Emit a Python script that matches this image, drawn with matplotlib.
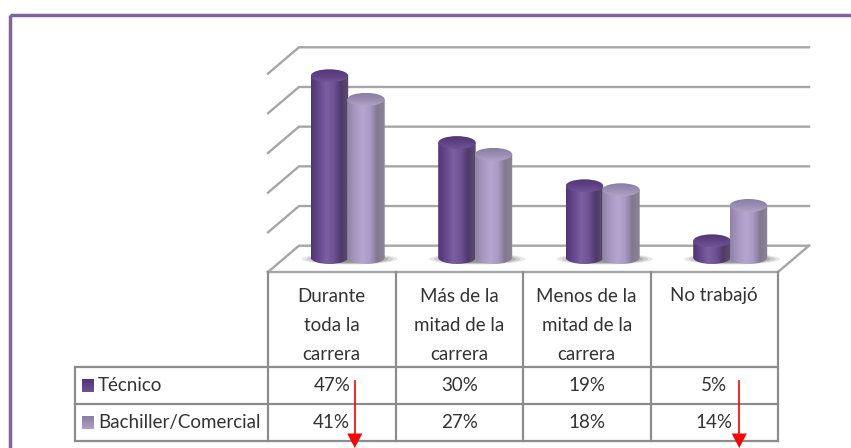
"""Purple 3D-style cylinder chart with a data table underneath."""

import matplotlib

matplotlib.use("Agg")
import matplotlib.pyplot as plt
import numpy as np
from matplotlib.colors import LinearSegmentedColormap
from matplotlib.patches import Ellipse, PathPatch, Rectangle
from matplotlib.path import Path

categories = ["Durante\ntoda la\ncarrera", "Más de la\nmitad de la\ncarrera",
              "Menos de la\nmitad de la\ncarrera", "No trabajó"]
series_names = ["Técnico", "Bachiller/Comercial"]
tecnico = [47, 30, 19, 5]
bachiller = [41, 27, 18, 14]
grid_levels = [0, 10, 20, 30, 40, 50]
arrow_columns = [0, 3]

plt.rcParams["font.family"] = ["Lato", "DejaVu Sans"]

W, H = 851, 448
GRID_COLOR = "#a6a6a6"
TABLE_COLOR = "#8c8c8c"
TEXT_COLOR = "#333333"
FRAME_COLOR = "#8064a2"

# pixel layout of the fake 3D box
BACK_L, BACK_R = 299, 809
FRONT_L, FRONT_R = 268, 778
GRID_BOTTOM, GRID_STEP = 245.7, 39.68
FLOOR_FRONT = 272
COL_W = (FRONT_R - FRONT_L) / 4
BAR_BASE = 257.5
TOP_ZERO, BAR_SCALE = 260.5, 3.93
BAR_W, BAR_RY = 37.5, 6.5
ROW_Y = [367.3, 404, 441]

DARK = dict(
    body=LinearSegmentedColormap.from_list("d", ["#4f3674", "#66498c", "#7c5ea2", "#6f5294", "#4e3a6c", "#5b4f6c"]),
    top=LinearSegmentedColormap.from_list("dt", ["#523777", "#5e4285", "#6f5595"]),
)
LIGHT = dict(
    body=LinearSegmentedColormap.from_list("l", ["#8f83a8", "#a697bf", "#b5a6d0", "#ab9cc5", "#83788f", "#8a8596"]),
    top=LinearSegmentedColormap.from_list("lt", ["#8b7ea3", "#9a8db3", "#b0a3c6"]),
)

fig = plt.figure(figsize=(W / 100, H / 100), dpi=100)
ax = fig.add_axes([0, 0, 1, 1])


def gradient(x0, x1, y0, y1, cmap, clip, vertical=False, zorder=3):
    ramp = np.linspace(0, 1, 64)
    data = ramp[:, None] if vertical else ramp[None, :]
    im = ax.imshow(data, cmap=cmap, extent=(x0, x1, y1, y0), aspect="auto",
                   interpolation="bilinear", zorder=zorder)
    im.set_clip_path(clip)


def cylinder(x0, value, style, zorder):
    x1 = x0 + BAR_W
    cx = (x0 + x1) / 2
    top = TOP_ZERO - value * BAR_SCALE
    k = 0.5523 * BAR_W / 2
    ky = 0.5523 * BAR_RY
    verts = [(x0, top), (x0, BAR_BASE),
             (x0, BAR_BASE + ky), (cx - k, BAR_BASE + BAR_RY), (cx, BAR_BASE + BAR_RY),
             (cx + k, BAR_BASE + BAR_RY), (x1, BAR_BASE + ky), (x1, BAR_BASE),
             (x1, top), (x0, top)]
    codes = [Path.MOVETO, Path.LINETO, Path.CURVE4, Path.CURVE4, Path.CURVE4,
             Path.CURVE4, Path.CURVE4, Path.CURVE4, Path.LINETO, Path.CLOSEPOLY]
    body = PathPatch(Path(verts, codes), facecolor="none", edgecolor="none", transform=ax.transData)
    ax.add_patch(body)
    gradient(x0, x1, top - 1, BAR_BASE + BAR_RY + 1, style["body"], body, zorder=zorder)

    cap = Ellipse((cx, top), BAR_W, 2 * BAR_RY, facecolor="none", edgecolor="none")
    ax.add_patch(cap)
    gradient(x0, x1, top - BAR_RY, top + BAR_RY, style["top"], cap, vertical=True, zorder=zorder + 0.1)


def shadow(x_left, x_right):
    for grow, alpha in [(1.0, 0.12), (0.9, 0.16), (0.8, 0.2), (0.68, 0.25)]:
        ax.add_patch(Ellipse(((x_left + x_right) / 2, BAR_BASE + 1.5), (x_right - x_left) * grow,
                             11 * grow, facecolor="#404040", edgecolor="none", alpha=alpha, zorder=2))


def grid_y(level):
    return GRID_BOTTOM - level / 10 * GRID_STEP


# frame
ax.add_patch(Rectangle((9.5, 15.5), W, H, facecolor="none", edgecolor=FRAME_COLOR, linewidth=2.5, zorder=1))

# walls and floor
for level in grid_levels:
    y = grid_y(level)
    ax.plot([FRONT_L, BACK_L, BACK_R], [y + FLOOR_FRONT - GRID_BOTTOM, y, y],
            color=GRID_COLOR, linewidth=1.7, solid_joinstyle="miter", zorder=1)
ax.plot([FRONT_L, FRONT_R, BACK_R], [FLOOR_FRONT, FLOOR_FRONT, GRID_BOTTOM],
        color=GRID_COLOR, linewidth=1.7, zorder=1)

# cylinders
for i, (t, b) in enumerate(zip(tecnico, bachiller)):
    x_t = FRONT_L + 42.7 + i * COL_W
    x_b = x_t + BAR_W - 1
    shadow(x_t - 9, x_b + BAR_W + 13)
    cylinder(x_t, t, DARK, 3 + i)
    cylinder(x_b, b, LIGHT, 3.5 + i)

# table grid
for i in range(5):
    x = FRONT_L + i * COL_W
    ax.plot([x, x], [FLOOR_FRONT, ROW_Y[-1]], color=TABLE_COLOR, linewidth=1.6, zorder=1)
for y in ROW_Y:
    ax.plot([75, FRONT_R], [y, y], color=TABLE_COLOR, linewidth=1.6, zorder=1)
ax.plot([75, 75], [ROW_Y[0], ROW_Y[-1]], color=TABLE_COLOR, linewidth=1.6, zorder=1)

# category labels
for i, label in enumerate(categories):
    cx = FRONT_L + (i + 0.5) * COL_W
    for j, line in enumerate(label.split("\n")):
        ax.text(cx, 296 + j * 29.5, line, ha="center", va="center", fontsize=13.5, color=TEXT_COLOR)

# table rows
for r, (name, values, style) in enumerate(zip(series_names, [tecnico, bachiller], [DARK, LIGHT])):
    y = (ROW_Y[r] + ROW_Y[r + 1]) / 2
    key = Rectangle((82, y - 6.5), 12, 13, facecolor="none", edgecolor="none")
    ax.add_patch(key)
    gradient(82, 94, y - 6.5, y + 6.5, style["top"], key, vertical=True, zorder=3)
    ax.text(98, y, name, ha="left", va="center", fontsize=13.5, color=TEXT_COLOR)
    for i, v in enumerate(values):
        ax.text(FRONT_L + (i + 0.5) * COL_W, y, f"{v}%", ha="center", va="center",
                fontsize=13.5, color=TEXT_COLOR)

# red arrows
for col in arrow_columns:
    x = FRONT_L + (col + 0.5) * COL_W + (23 if col == 0 else 25)
    ax.plot([x, x], [381, 435], color="#ff0000", linewidth=1.2, zorder=6)
    ax.fill([x - 7.5, x + 7.5, x], [433.5, 433.5, 448], color="#ff0000", linewidth=0, zorder=6)

ax.set_xlim(0, W)
ax.set_ylim(H, 0)
ax.axis("off")

fig.savefig("out.png", dpi=100)
